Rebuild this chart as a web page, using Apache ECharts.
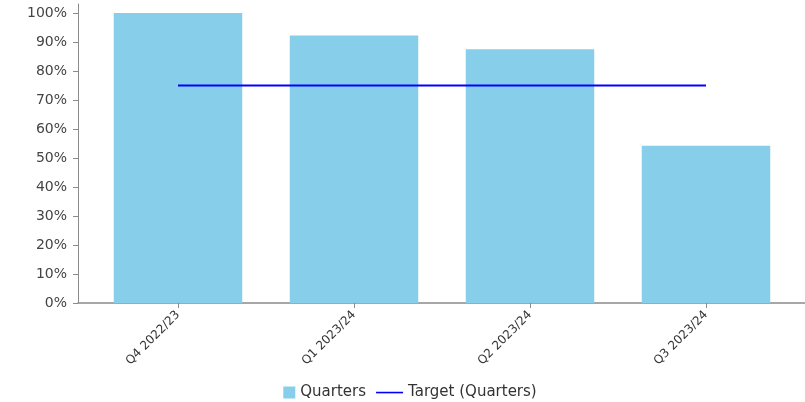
<!DOCTYPE html>
<html><head><meta charset="utf-8">
<script src="https://cdn.jsdelivr.net/npm/echarts@6/dist/echarts.min.js"></script>
<style>html,body{margin:0;padding:0;background:#fff}#c{width:805px;height:402px}</style>
</head><body><div id="c"></div>
<script>
var categories = ['Q4 2022/23', 'Q1 2023/24', 'Q2 2023/24', 'Q3 2023/24'];
var quarters = [100, 92.2, 87.5, 54.2];
var target = [75, 75, 75, 75];
var yTicks = [0, 10, 20, 30, 40, 50, 60, 70, 80, 90, 100];

var AXIS = '#8a8a8a';
var chart = echarts.init(document.getElementById('c'));
chart.setOption({
  animation: false,
  grid: [
    { left: 90, right: 11, top: 13, bottom: 99, containLabel: false },
    { left: 78, right: 0, top: 4, bottom: 99, containLabel: false }
  ],
  legend: {
    top: 380, left: 'center', itemGap: 10, itemWidth: 27, itemHeight: 12,
    textStyle: { fontFamily: 'DejaVu Sans', fontSize: 15, color: '#333' },
    data: [
      { name: 'Quarters', icon: 'path://M0,0 L0,0 M15,0 h12 v12 h-12 z' },
      { name: 'Target (Quarters)', icon: 'path://M0,0 L0,0 M0,5.25 h27 v1.6 h-27 z M27,12 L27,12' }
    ]
  },
  xAxis: [
    { type: 'category', data: categories, gridIndex: 0,
      axisLine: { show: false },
      axisTick: { show: true, alignWithLabel: true, length: 5, lineStyle: { color: AXIS } },
      axisLabel: { rotate: 45, margin: 10, fontFamily: 'DejaVu Sans', fontSize: 12, color: '#333' } },
    { type: 'value', gridIndex: 1, min: 0, max: 1,
      axisLine: { show: true, lineStyle: { color: AXIS, width: 1.5 } },
      axisTick: { show: false }, axisLabel: { show: false }, splitLine: { show: false } }
  ],
  yAxis: [
    { type: 'value', gridIndex: 0, min: 0, max: 100, interval: 10, offset: 12,
      axisLine: { show: false },
      axisTick: { show: true, length: 5, lineStyle: { color: AXIS } },
      splitLine: { show: false },
      axisLabel: { margin: 11, fontFamily: 'DejaVu Sans', fontSize: 14, color: '#444',
        formatter: function (v) { return yTicks.indexOf(v) >= 0 ? v + '%' : ''; } } },
    { type: 'value', gridIndex: 1, min: 0, max: 1,
      axisLine: { show: true, lineStyle: { color: AXIS, width: 1 } },
      axisTick: { show: false }, axisLabel: { show: false }, splitLine: { show: false } }
  ],
  series: [
    { name: 'Quarters', type: 'bar', data: quarters, barCategoryGap: '27%',
      xAxisIndex: 0, yAxisIndex: 0, itemStyle: { color: '#87CEEB' } },
    { name: 'Target (Quarters)', type: 'line', data: target, symbol: 'none',
      xAxisIndex: 0, yAxisIndex: 0, z: 3,
      lineStyle: { color: '#0000FF', width: 2 }, itemStyle: { color: '#0000FF' } }
  ]
});
</script></body></html>
